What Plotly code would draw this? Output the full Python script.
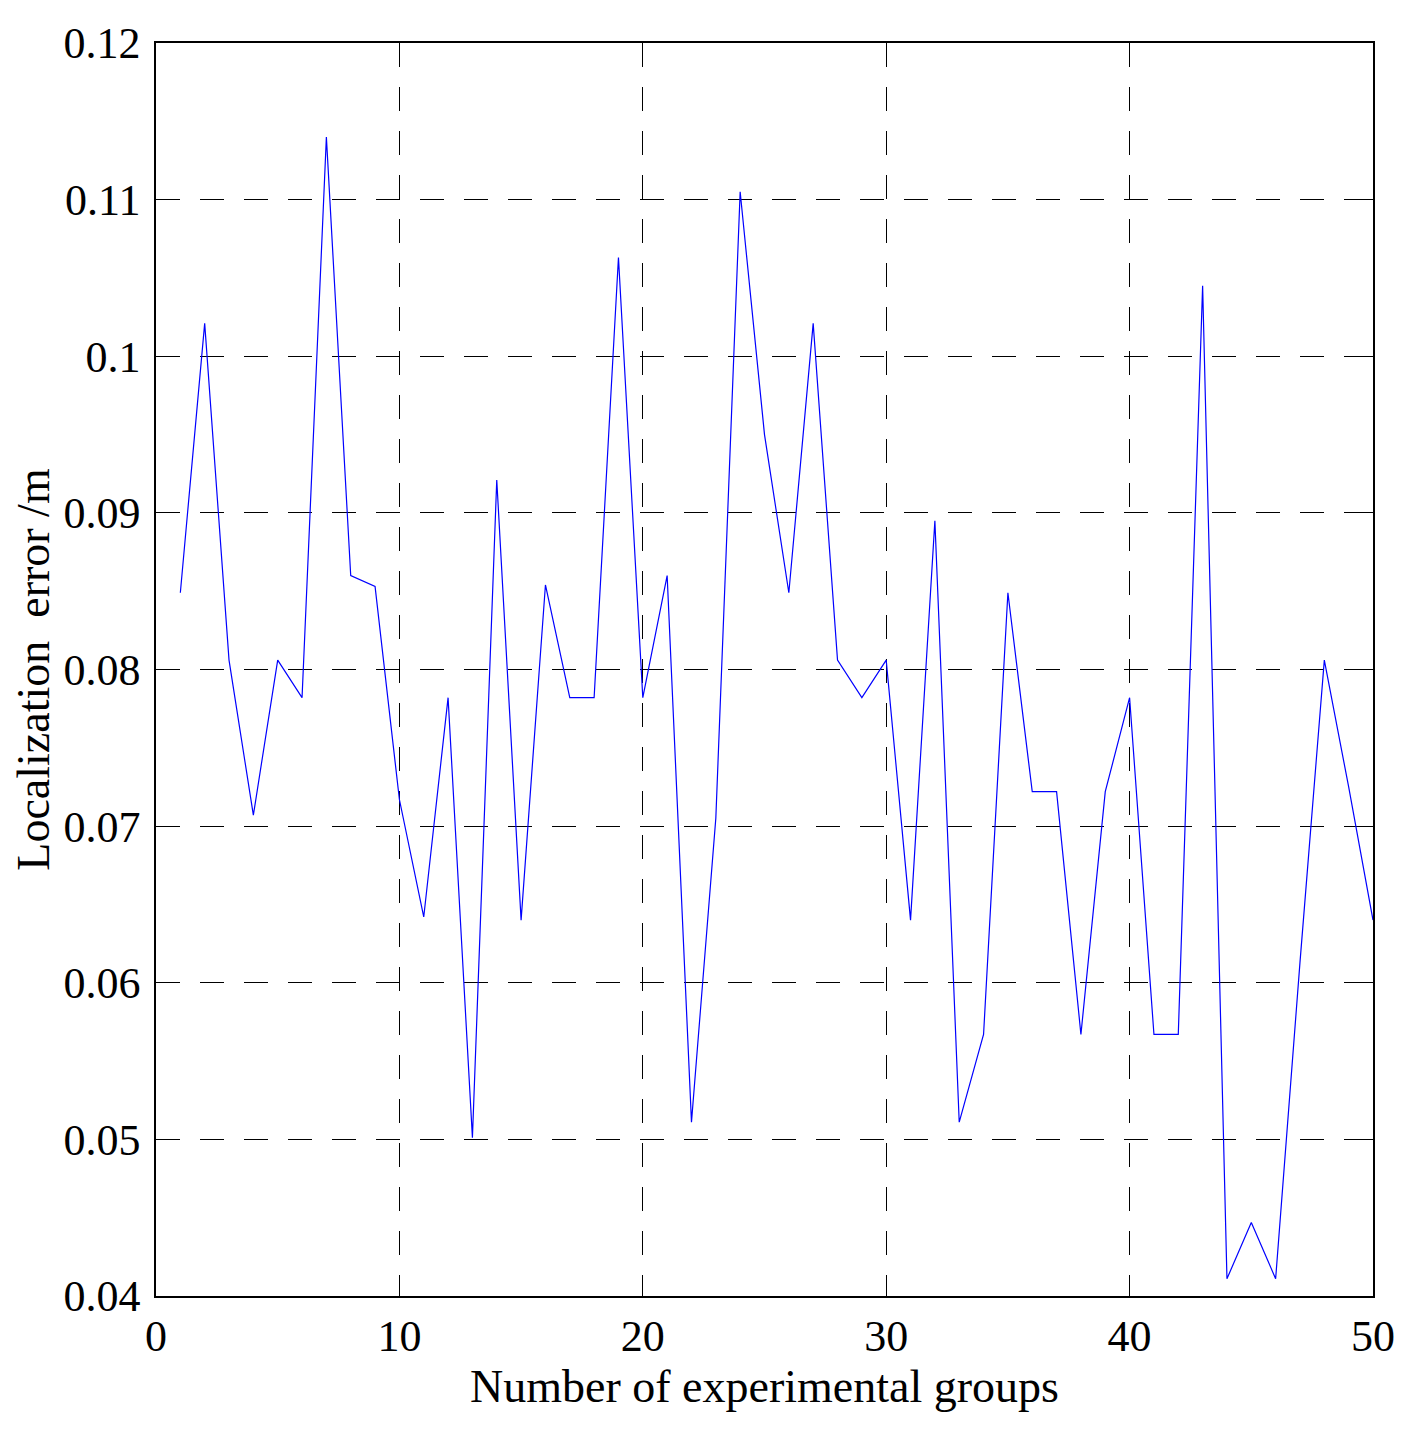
import plotly.graph_objects as go

# Datos
grupos = list(range(1, 51))
error_m = [
    0.0849, 0.1021, 0.0806, 0.0707, 0.0806, 0.0782, 0.1140, 0.0860, 0.0853, 0.0717,
    0.0642, 0.0782, 0.0501, 0.0921, 0.0640, 0.0854, 0.0782, 0.0782, 0.1063, 0.0782,
    0.0860, 0.0511, 0.0705, 0.1105, 0.0950, 0.0849, 0.1021, 0.0806, 0.0782, 0.0806,
    0.0640, 0.0895, 0.0511, 0.0567, 0.0849, 0.0722, 0.0722, 0.0567, 0.0722, 0.0782,
    0.0567, 0.0567, 0.1045, 0.0411, 0.0447, 0.0411, 0.0613, 0.0806, 0.0725, 0.0640,
]
x_ticks = [0, 10, 20, 30, 40, 50]
y_ticks = [0.04, 0.05, 0.06, 0.07, 0.08, 0.09, 0.1, 0.11, 0.12]
y_labels = ['0.04', '0.05', '0.06', '0.07', '0.08', '0.09', '0.1', '0.11', '0.12']

fig = go.Figure()
fig.add_trace(go.Scatter(
    x=grupos, y=error_m, mode='lines',
    line=dict(color='rgb(0,0,255)', width=1.2),
    showlegend=False,
))

font = dict(family='Liberation Serif, Times New Roman, serif', size=44, color='black')
title_font = dict(font, size=46)
axis_common = dict(
    showline=True, linecolor='black', linewidth=1.5, mirror='ticks',
    ticks='inside', ticklen=5, tickcolor='black', tickwidth=1,
    showgrid=True, gridcolor='black', gridwidth=1, griddash='24px,20px',
    zeroline=False, tickfont=font, automargin=False,
)

# La página añade 8 px de margen al body, por eso se compensan los márgenes
fig.update_layout(
    width=1424, height=1432,
    margin=dict(l=148, r=59, t=35, b=144),
    paper_bgcolor='white', plot_bgcolor='white',
    font=font,
    xaxis=dict(
        range=[0, 50], tickvals=x_ticks,
        title=dict(text='Number of experimental groups', font=title_font, standoff=8),
        **axis_common,
    ),
    yaxis=dict(
        range=[0.04, 0.12], tickvals=y_ticks, ticktext=y_labels,
        ticklabelstandoff=5,
        title=dict(text='Localization  error /m', font=title_font, standoff=0),
        **axis_common,
    ),
)

fig.write_html('out.html')
